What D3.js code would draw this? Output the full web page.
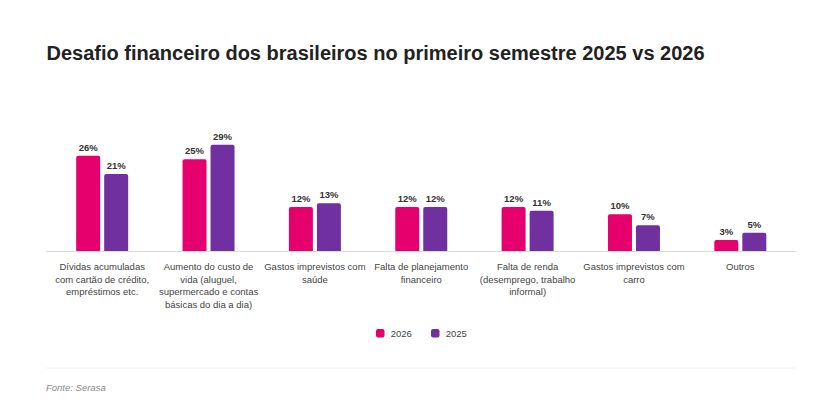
<!DOCTYPE html>
<html>
<head>
<meta charset="utf-8">
<script src="https://cdn.jsdelivr.net/npm/d3@7"></script>
<style>
  body { margin: 0; background: #fff; }
  svg { font-family: "Liberation Sans", Arial, sans-serif; display: block; }
</style>
</head>
<body>
<div id="chart"></div>
<script>
// data
var categories = [
  "Dívidas acumuladas com cartão de crédito, empréstimos etc.",
  "Aumento do custo de vida (aluguel, supermercado e contas básicas do dia a dia)",
  "Gastos imprevistos com saúde",
  "Falta de planejamento financeiro",
  "Falta de renda (desemprego, trabalho informal)",
  "Gastos imprevistos com carro",
  "Outros"
];
var seriesNames = ["2026", "2025"];
var values2026 = [26, 25, 12, 12, 12, 10, 3];
var values2025 = [21, 29, 13, 12, 11, 7, 5];
var colors = ["#e5006e", "#7030a0"];

function init() {
  var w = 828, h = 414;
  var baseY = 251;

  var svg = d3.select("#chart").append("svg")
    .attr("width", w)
    .attr("height", h);

  // title
  svg.append("text")
    .attr("x", 46.5)
    .attr("y", 59.5)
    .attr("fill", "#222")
    .attr("font-size", "20px")
    .attr("font-weight", "bold")
    .text("Desafio financeiro dos brasileiros no primeiro semestre 2025 vs 2026");

  var xScale = d3.scaleBand()
    .domain(d3.range(categories.length))
    .range([49, 793.5]);

  var xInner = d3.scaleBand()
    .domain(seriesNames)
    .range([0, 52])
    .paddingInner(0.1429);

  var yScale = d3.scaleLinear()
    .domain([0, 30])
    .range([baseY, 141]);

  // baseline
  svg.append("line")
    .attr("x1", 46).attr("x2", 797)
    .attr("y1", baseY + 0.5).attr("y2", baseY + 0.5)
    .attr("stroke", "#dcdcdc")
    .attr("stroke-width", 1);

  var rows = categories.map(function(c, i) {
    return { i: i, vals: [values2026[i], values2025[i]] };
  });

  var groups = svg.selectAll("g.cat")
    .data(rows)
    .enter()
    .append("g")
    .attr("class", "cat")
    .attr("transform", function(d) {
      return "translate(" + (xScale(d.i) + (xScale.bandwidth() - 52) / 2) + ",0)";
    });

  var bars = groups.selectAll("g.bar")
    .data(function(d) {
      return d.vals.map(function(v, k) { return { s: seriesNames[k], k: k, v: v }; });
    })
    .enter()
    .append("g")
    .attr("class", "bar");

  bars.append("path")
    .attr("fill", function(d) { return colors[d.k]; })
    .attr("d", function(d) {
      var x0 = xInner(d.s), bw = xInner.bandwidth();
      var y0 = yScale(d.v), r = 2;
      return "M" + x0 + "," + baseY +
        "V" + (y0 + r) +
        "Q" + x0 + "," + y0 + " " + (x0 + r) + "," + y0 +
        "H" + (x0 + bw - r) +
        "Q" + (x0 + bw) + "," + y0 + " " + (x0 + bw) + "," + (y0 + r) +
        "V" + baseY + "Z";
    });

  bars.append("text")
    .attr("x", function(d) { return xInner(d.s) + xInner.bandwidth() / 2; })
    .attr("y", function(d) { return yScale(d.v) - 5; })
    .attr("text-anchor", "middle")
    .attr("font-size", "9.5px")
    .attr("font-weight", "bold")
    .attr("fill", "#333")
    .text(function(d) { return d.v + "%"; });

  // category labels, wrapped
  var labels = svg.selectAll("text.cat-label")
    .data(categories)
    .enter()
    .append("text")
    .attr("class", "cat-label")
    .attr("x", function(d, i) { return xScale(i) + xScale.bandwidth() / 2; })
    .attr("y", 270)
    .attr("text-anchor", "middle")
    .attr("font-size", "9.5px")
    .attr("fill", "#444")
    .text(function(d) { return d; });

  labels.each(function(d) { wrap(d3.select(this), 104); });

  function wrap(text, width) {
    var words = text.text().split(/\s+/);
    var x = text.attr("x");
    text.text(null);
    var line = [];
    var tspan = text.append("tspan").attr("x", x).attr("dy", 0);
    words.forEach(function(word) {
      line.push(word);
      tspan.text(line.join(" "));
      if (tspan.node().getComputedTextLength() > width && line.length > 1) {
        line.pop();
        tspan.text(line.join(" "));
        line = [word];
        tspan = text.append("tspan").attr("x", x).attr("dy", 12.7).text(word);
      }
    });
  }

  // legend
  var legendX = [376, 431];
  var legend = svg.selectAll("g.legend")
    .data(seriesNames)
    .enter()
    .append("g")
    .attr("class", "legend")
    .attr("transform", function(d, i) { return "translate(" + legendX[i] + ",329)"; });

  legend.append("rect")
    .attr("width", 8.5).attr("height", 8.5)
    .attr("rx", 2)
    .attr("fill", function(d, i) { return colors[i]; });

  legend.append("text")
    .attr("x", 14.7)
    .attr("y", 8)
    .attr("font-size", "9.5px")
    .attr("fill", "#444")
    .text(function(d) { return d; });

  // footer
  svg.append("line")
    .attr("x1", 46).attr("x2", 797)
    .attr("y1", 368).attr("y2", 368)
    .attr("stroke", "#f2f2f2");

  svg.append("text")
    .attr("x", 46)
    .attr("y", 391)
    .attr("font-size", "9.5px")
    .attr("font-style", "italic")
    .attr("fill", "#8a8a8a")
    .text("Fonte: Serasa");
}

window.onload = init;
</script>
</body>
</html>
